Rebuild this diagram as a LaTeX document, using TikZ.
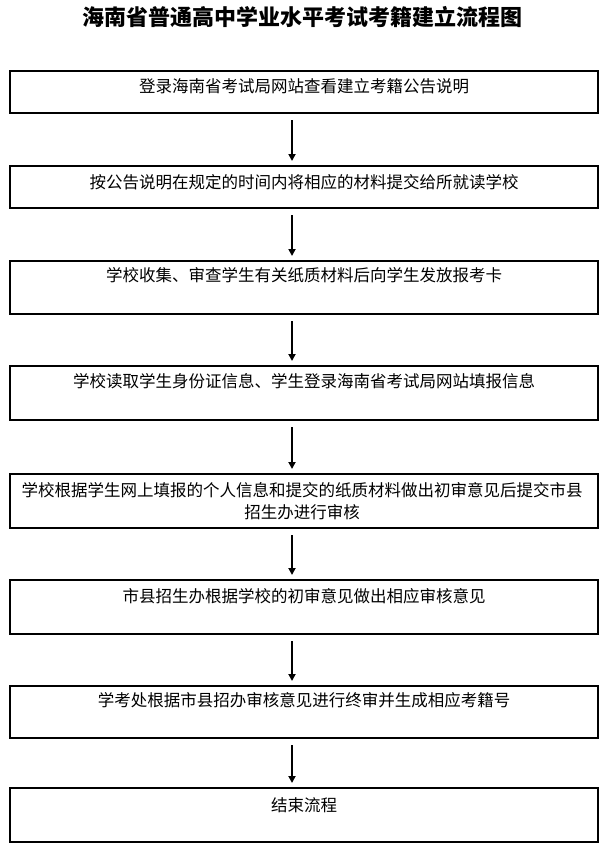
\documentclass[tikz,border=0pt]{standalone}
\usepackage{fontspec}
\newfontfamily\cjk{Noto Sans CJK SC}
\usetikzlibrary{arrows.meta}
\begin{document}
\begin{tikzpicture}[x=1pt,y=-1pt,
  stepbox/.style={draw=black,line width=2pt,inner sep=0pt},
  steptext/.style={font=\cjk\fontsize{16.5}{22}\selectfont,inner sep=0pt,align=center},
  flow/.style={-{Triangle[length=7pt,width=7pt]},line width=1.8pt,shorten <=6pt,shorten >=4pt}]
\useasboundingbox (0,0) rectangle (610,854);
\node[font=\cjk\bfseries\fontsize{22}{25}\selectfont] (title) at (302,17) {海南省普通高中学业水平考试考籍建立流程图};
% boxes: top, bottom
\foreach \n/\t/\b in {b1/71/113,b2/166/208,b3/261/314,b4/366/420,b5/474/528,b6/580/634,b7/686/738,b8/788/842}{
  \node[stepbox,minimum width=588pt,minimum height={\b-\t}] (\n) at (304,{(\t+\b)/2}) {};
}
\node[steptext] (t1) at (304,86) {登录海南省考试局网站查看建立考籍公告说明};
\node[steptext] (t2) at (304,182) {按公告说明在规定的时间内将相应的材料提交给所就读学校};
\node[steptext] (t3) at (304,275) {学校收集、审查学生有关纸质材料后向学生发放报考卡};
\node[steptext] (t4) at (304,381) {学校读取学生身份证信息、学生登录海南省考试局网站填报信息};
\node[steptext] (t5) at (302,501) {学校根据学生网上填报的个人信息和提交的纸质材料做出初审意见后提交市县\\招生办进行审核};
\node[steptext] (t6) at (304,596) {市县招生办根据学校的初审意见做出相应审核意见};
\node[steptext] (t7) at (304,700) {学考处根据市县招办审核意见进行终审并生成相应考籍号};
\node[steptext] (t8) at (304,805) {结束流程};
\foreach \a/\c in {b1/b2,b2/b3,b3/b4,b4/b5,b5/b6,b6/b7,b7/b8}{
  \draw[flow] (\a.south -| 292,0) -- (\c.north -| 292,0);
}
\end{tikzpicture}
\end{document}
